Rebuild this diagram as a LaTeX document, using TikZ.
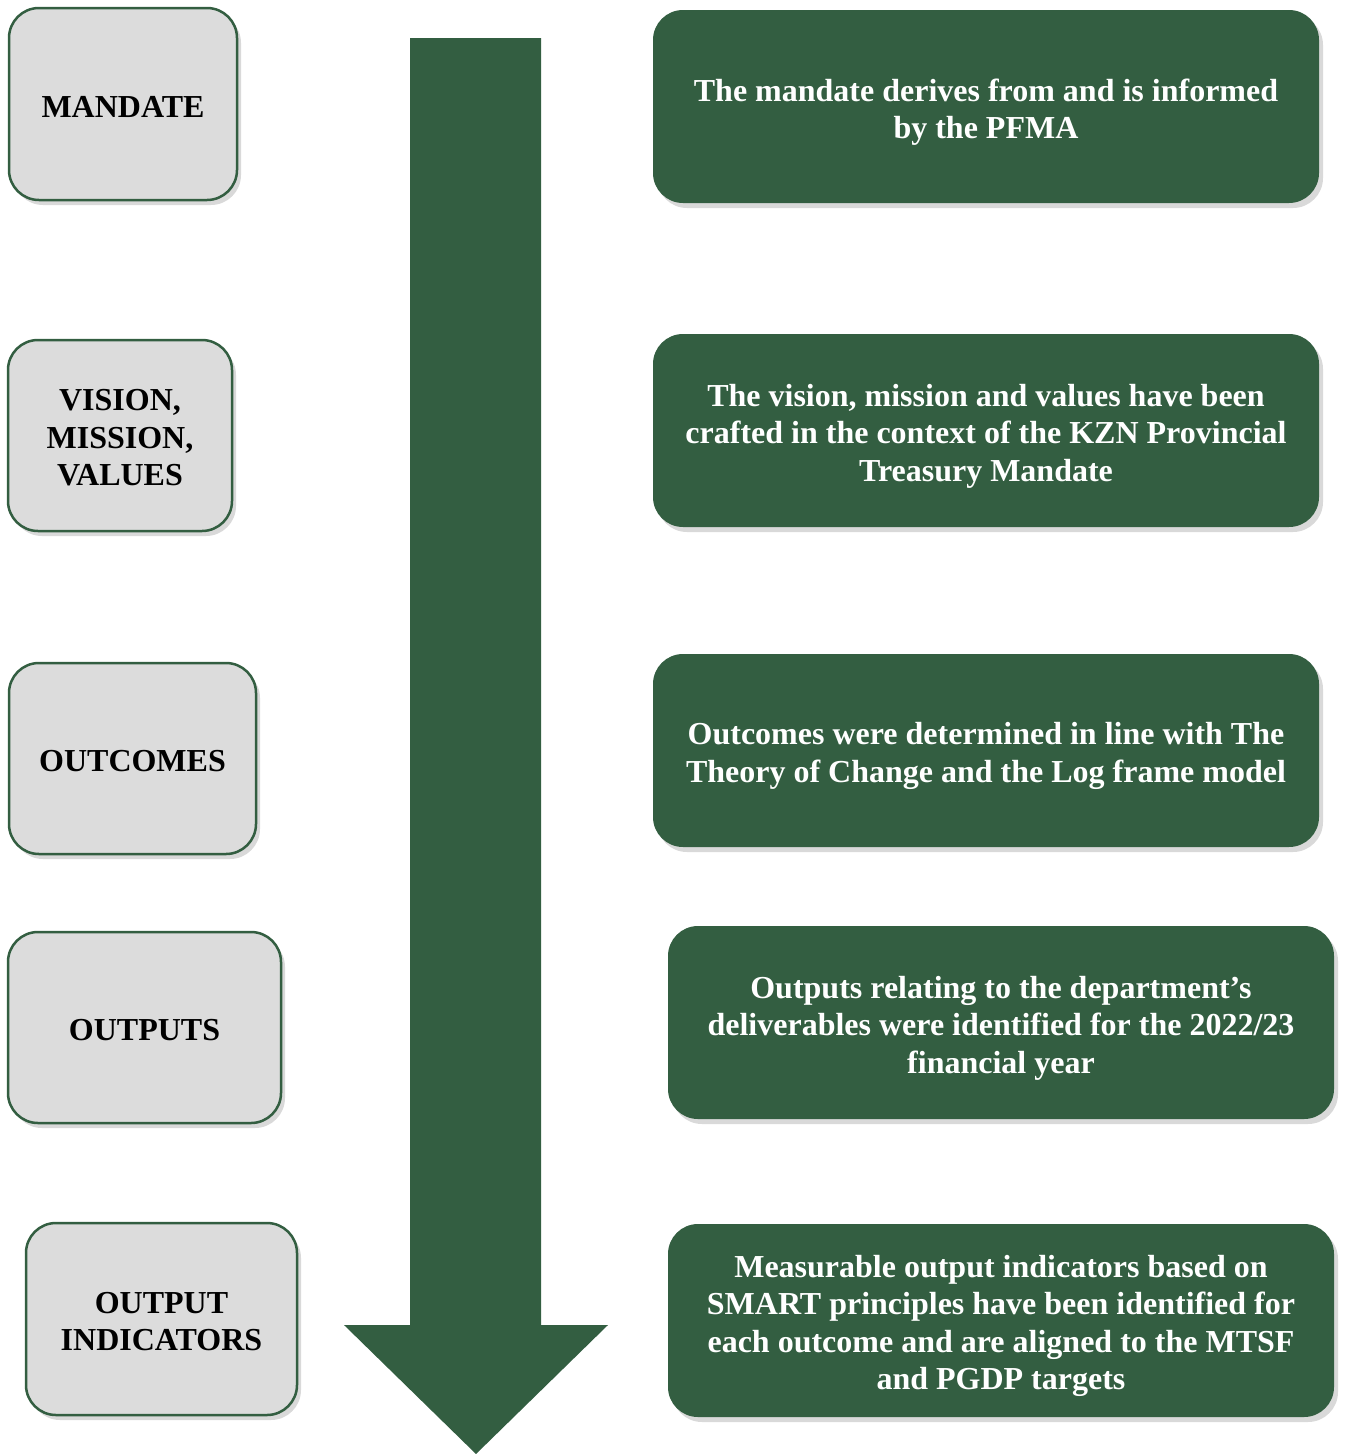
\documentclass[tikz,border=0pt]{standalone}
\usepackage{fontspec}
\setmainfont{Liberation Serif}
\usetikzlibrary{shadows}
\definecolor{dgreen}{RGB}{51,94,65}
\definecolor{lgray}{RGB}{220,220,220}
\tikzset{
  leftbox/.style={draw=dgreen, line width=2.5pt, fill=lgray, rounded corners=30pt,
    drop shadow={shadow xshift=4pt, shadow yshift=-5pt, opacity=0.3, fill=gray}},
  lefttext/.style={align=center, font=\fontsize{32}{37.5}\selectfont\bfseries, text=black, yshift=-2.5pt},
  rightbox/.style={fill=dgreen, rounded corners=30pt, minimum width=666pt, minimum height=193pt,
    drop shadow={shadow xshift=4pt, shadow yshift=-5pt, opacity=0.3, fill=gray}},
  righttext/.style={align=center, font=\fontsize{32}{37.5}\selectfont\bfseries, text=white, yshift=-5.5pt}
}
\begin{document}
\begin{tikzpicture}[x=1pt,y=-1pt]
\useasboundingbox (0,0) rectangle (1346,1454);
% big arrow
\fill[dgreen] (410,38) -- (541,38) -- (541,1325) -- (608,1325) -- (476,1454) -- (344,1325) -- (410,1325) -- cycle;
% left boxes
\node[leftbox, minimum width=228pt, minimum height=192pt] (mandate) at (123,104) {};
\node[lefttext] (mandatet) at (mandate.center) {MANDATE};
\node[leftbox, minimum width=224pt, minimum height=191pt] (vision) at (120,435.5) {};
\node[lefttext] (visiont) at (vision.center) {VISION,\\MISSION,\\VALUES};
\node[leftbox, minimum width=247pt, minimum height=191pt] (outcomes) at (132.5,758.5) {};
\node[lefttext] (outcomest) at (outcomes.center) {OUTCOMES};
\node[leftbox, minimum width=273pt, minimum height=191pt] (outputs) at (144.5,1027.5) {};
\node[lefttext] (outputst) at (outputs.center) {OUTPUTS};
\node[leftbox, minimum width=271pt, minimum height=192pt] (indicators) at (161.5,1319) {};
\node[lefttext] (indicatorst) at (indicators.center) {OUTPUT\\INDICATORS};
% right boxes
\node[rightbox] (r1) at (986,106.5) {};
\node[righttext] (r1t) at (r1.center) {The mandate derives from and is informed\\by the PFMA};
\node[rightbox] (r2) at (986,430.5) {};
\node[righttext] (r2t) at (r2.center) {The vision, mission and values have been\\crafted in the context of the KZN Provincial\\Treasury Mandate};
\node[rightbox] (r3) at (986,750.5) {};
\node[righttext] (r3t) at (r3.center) {Outcomes were determined in line with The\\Theory of Change and the Log frame model};
\node[rightbox] (r4) at (1001,1022.5) {};
\node[righttext] (r4t) at (r4.center) {Outputs relating to the department’s\\deliverables were identified for the 2022/23\\financial year};
\node[rightbox] (r5) at (1001,1320.5) {};
\node[righttext] (r5t) at (r5.center) {Measurable output indicators based on\\SMART principles have been identified for\\each outcome and are aligned to the MTSF\\and PGDP targets};
\end{tikzpicture}
\end{document}
